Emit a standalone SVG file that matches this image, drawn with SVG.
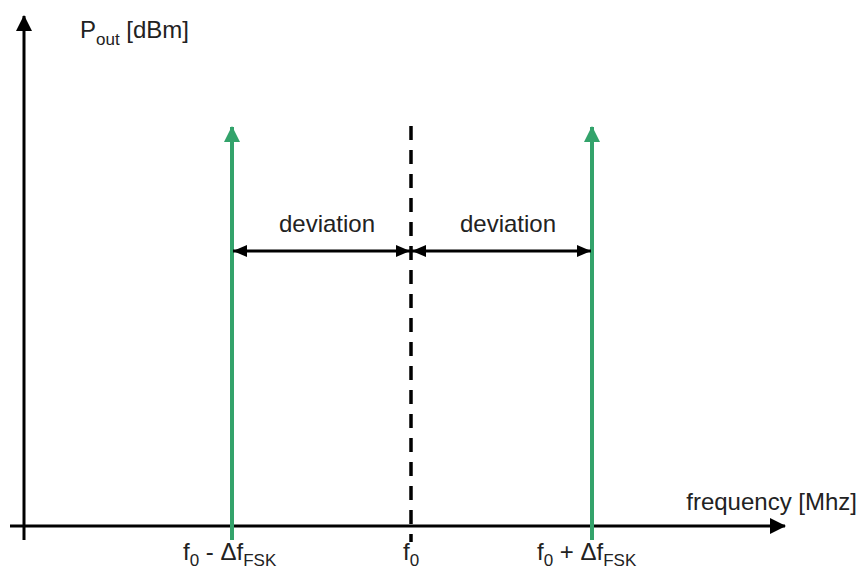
<svg xmlns="http://www.w3.org/2000/svg" width="858" height="572" viewBox="0 0 858 572">
<style>
text{font-family:"Liberation Sans",Arial,sans-serif;font-size:24px;fill:#222}
.sub{font-size:17px}
.ax{stroke:#000;stroke-width:3;fill:none}
.gr{stroke:#33a36b;stroke-width:4;fill:none}
.dev{stroke:#000;stroke-width:3;fill:none}
</style>
<defs>
<marker id="ah" viewBox="0 0 16 16" refX="15" refY="8" markerWidth="16" markerHeight="16" markerUnits="userSpaceOnUse" orient="auto-start-reverse"><path d="M0,0 L16,8 L0,16 Z" fill="#000"/></marker>
<marker id="gh" viewBox="0 0 16 16" refX="15" refY="8" markerWidth="16" markerHeight="16" markerUnits="userSpaceOnUse" orient="auto"><path d="M0,0 L16,8 L0,16 Z" fill="#33a36b"/></marker>
<marker id="dh" viewBox="0 0 14 12" refX="14" refY="6" markerWidth="14" markerHeight="12" markerUnits="userSpaceOnUse" orient="auto-start-reverse"><path d="M0,0 L14,6 L0,12 Z" fill="#000"/></marker>
</defs>
<g id="connectors">
<line class="ax" x1="24" y1="540" x2="24" y2="16" marker-end="url(#ah)"/>
<line class="ax" x1="10" y1="526" x2="785" y2="526" marker-end="url(#ah)"/>
<line class="gr" x1="232" y1="540" x2="232" y2="127" marker-end="url(#gh)"/>
<line class="gr" x1="592" y1="540" x2="592" y2="127" marker-end="url(#gh)"/>
<line x1="411" y1="126" x2="411" y2="542" stroke="#000" stroke-width="3.5" stroke-dasharray="14 10"/>
<line class="dev" x1="233" y1="251" x2="410" y2="251" marker-start="url(#dh)" marker-end="url(#dh)"/>
<line class="dev" x1="412" y1="251" x2="591" y2="251" marker-start="url(#dh)" marker-end="url(#dh)"/>
</g>
<g id="labels">
<text x="80" y="38">P<tspan class="sub" dy="7">out</tspan><tspan dy="-7"> [dBm]</tspan></text>
<text x="857" y="510" text-anchor="end">frequency [Mhz]</text>
<text x="327" y="232" text-anchor="middle">deviation</text>
<text x="508" y="232" text-anchor="middle">deviation</text>
<text x="183" y="560">f<tspan class="sub" dy="6">0</tspan><tspan dy="-6"> - Δf</tspan><tspan class="sub" dy="6">FSK</tspan></text>
<text x="403" y="560">f<tspan class="sub" dy="6">0</tspan></text>
<text x="537" y="560">f<tspan class="sub" dy="6">0</tspan><tspan dy="-6"> + Δf</tspan><tspan class="sub" dy="6">FSK</tspan></text>
</g>
</svg>
